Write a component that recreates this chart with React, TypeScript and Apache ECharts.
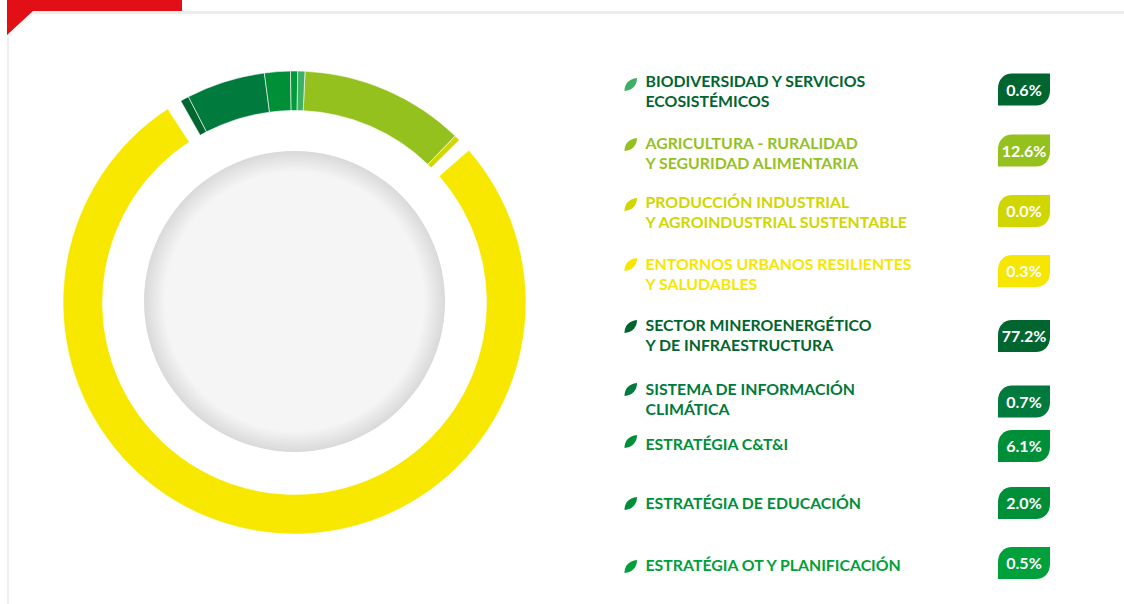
import React, { useEffect, useRef } from "react";
import * as echarts from "echarts";

// Legend content
const legendNames = [
  "BIODIVERSIDAD Y SERVICIOS\nECOSISTÉMICOS",
  "AGRICULTURA - RURALIDAD\nY SEGURIDAD ALIMENTARIA",
  "PRODUCCIÓN INDUSTRIAL\nY AGROINDUSTRIAL SUSTENTABLE",
  "ENTORNOS URBANOS RESILIENTES\nY SALUDABLES",
  "SECTOR MINEROENERGÉTICO\nY DE INFRAESTRUCTURA",
  "SISTEMA DE INFORMACIÓN\nCLIMÁTICA",
  "ESTRATÉGIA C&T&I",
  "ESTRATÉGIA DE EDUCACIÓN",
  "ESTRATÉGIA OT Y PLANIFICACIÓN",
];
const legendValues = ["0.6%", "12.6%", "0.0%", "0.3%", "77.2%", "0.7%", "6.1%", "2.0%", "0.5%"];
const textColors = ["#00652F", "#95C11F", "#CFD600", "#F7E600", "#00652F", "#007A3D", "#008F39", "#008F39", "#00A03A"];
const leafColors = ["#3CB064", "#95C11F", "#CFD600", "#F7E600", "#00652F", "#007A3D", "#008F39", "#008F39", "#00A03A"];
const badgeColors = ["#00652F", "#95C11F", "#CFD600", "#F7E600", "#00652F", "#007A3D", "#008F39", "#008F39", "#00A03A"];

// Ring slices, clockwise from just right of 12 o'clock
const sliceNames = ["Agricultura", "Producción", "gap1", "Minero", "gap2", "Biodiversidad", "C&T&I", "Educación", "OT", "Info"];
const sliceValues = [11.5, 0.4, 0.95, 77.2, 1.05, 0.6, 5.5, 1.8, 0.5, 0.5];
const sliceColors = ["#95C11F", "#D2D700", "", "#F8E800", "", "#00652F", "#007A3D", "#008F36", "#009A3A", "#3CB064"];

// Layout
const textCenterY = [90, 152, 211, 273, 334, 398, 443, 502, 564];
const badgeTop = [73.5, 134.5, 195, 255, 320, 385.5, 430, 487, 547];
const leafTop = [78, 138, 198, 258, 320, 383, 435, 497, 560];

echarts.graphic.registerShape(
  "leaf",
  echarts.graphic.extendPath("M12.5 0C12.5 7 8 12.5 0 13C0 6 4 1 12.5 0Z", {}) as any
);
echarts.graphic.registerShape(
  "badge",
  echarts.graphic.extendPath("M14 0L52 0L52 17C52 26 46 32 38 32L0 32L0 15C0 6 6 0 14 0Z", {}) as any
);

export default function App() {
  const ref = useRef<HTMLDivElement>(null);
  useEffect(() => {
    document.body.style.margin = "0";
    const chart = echarts.init(ref.current!, null, { renderer: "svg" });
    const fontFamily = "Lato";
    const graphics: any[] = [
      { type: "rect", z: 1, shape: { x: 7, y: 11, width: 1117, height: 3 }, style: { fill: "#EDEDED" } },
      { type: "rect", z: 1, shape: { x: 7, y: 11, width: 2, height: 593 }, style: { fill: "#EFEFEF" } },
      {
        type: "polygon", z: 2,
        shape: { points: [[7, 0], [182, 0], [182, 11], [33, 11], [7, 35]] },
        style: { fill: "#E30F17" },
      },
      {
        type: "circle", z: 2,
        shape: { cx: 294.5, cy: 301.5, r: 150.5 },
        style: {
          fill: new echarts.graphic.RadialGradient(0.5, 0.5, 0.5, [
            { offset: 0, color: "#F5F5F5" },
            { offset: 0.86, color: "#F5F5F5" },
            { offset: 1, color: "#D9D9D9" },
          ]),
        },
      },
    ];
    legendNames.forEach((name, i) => {
      graphics.push({
        type: "leaf", z: 3, x: 624.5, y: leafTop[i],
        style: { fill: leafColors[i] },
      });
      graphics.push({
        type: "text", z: 3, x: 645.5, y: textCenterY[i],
        style: {
          text: name, fill: textColors[i], fontFamily, fontWeight: 700, fontSize: 15.85,
          lineHeight: 20, align: "left", verticalAlign: "middle",
        },
      });
      graphics.push({ type: "badge", z: 3, x: 998, y: badgeTop[i], style: { fill: badgeColors[i] } });
      graphics.push({
        type: "text", z: 4, x: 1024, y: badgeTop[i] + 15.5,
        style: {
          text: legendValues[i], fill: "#FFFFFF", fontFamily, fontWeight: 700, fontSize: 16,
          align: "center", verticalAlign: "middle",
        },
      });
    });
    chart.setOption({
      animation: false,
      graphic: graphics,
      series: [
        {
          type: "pie",
          silent: true,
          center: [294.5, 302.5],
          radius: [192, 231.5],
          startAngle: 87.4,
          clockwise: true,
          minAngle: 0,
          sort: null,
          label: { show: false },
          labelLine: { show: false },
          emphasis: { disabled: true },
          data: sliceNames.map((name, i) => ({
            name,
            value: sliceValues[i],
            itemStyle: sliceColors[i]
              ? { color: sliceColors[i], borderColor: "#FFFFFF", borderWidth: 0.6 }
              : { color: "rgba(0,0,0,0)", borderWidth: 0 },
          })),
        },
      ],
    });
    return () => chart.dispose();
  }, []);
  return <div ref={ref} style={{ position: "fixed", left: 0, top: 0, width: 1124, height: 604, background: "#fff" }} />;
}
